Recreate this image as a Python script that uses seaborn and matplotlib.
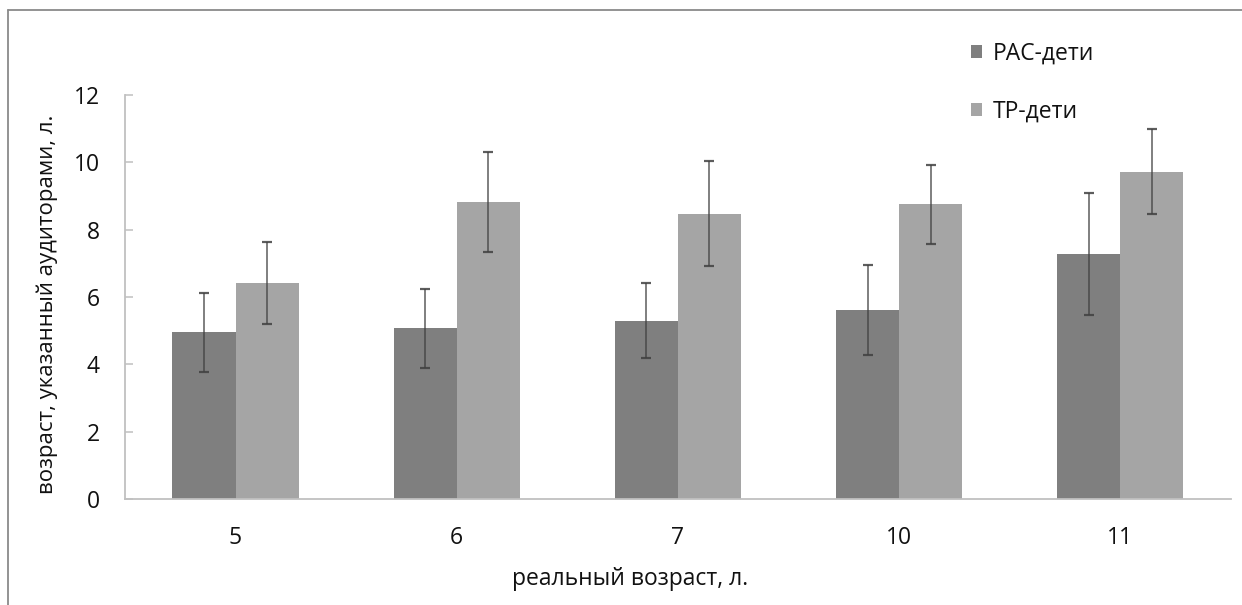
import matplotlib
matplotlib.use("Agg")
import matplotlib.pyplot as plt
from matplotlib.lines import Line2D
from matplotlib.patches import Patch
import numpy as np
import pandas as pd
import seaborn as sns

# Real age groups (years)
ages = ["5", "6", "7", "10", "11"]
groups = ["РАС-дети", "ТР-дети"]

# Mean age attributed by listeners, and its spread
ras_mean = [4.95, 5.07, 5.30, 5.62, 7.28]
ras_err = [1.17, 1.17, 1.12, 1.33, 1.82]
tr_mean = [6.42, 8.82, 8.47, 8.75, 9.72]
tr_err = [1.21, 1.48, 1.56, 1.17, 1.26]

colors = ["#7f7f7f", "#a5a5a5"]
text_color = "#111111"

df = pd.DataFrame({
    "age": ages * 2,
    "group": [groups[0]] * len(ages) + [groups[1]] * len(ages),
    "value": ras_mean + tr_mean,
    "err": ras_err + tr_err,
})

sns.set_theme(style="white")
plt.rcParams["font.family"] = ["Open Sans", "DejaVu Sans"]

fig = plt.figure(figsize=(12.42, 6.05), dpi=100)
ax = fig.add_axes([0.1006, 0.175, 0.8904, 0.668])

sns.barplot(data=df, x="age", y="value", hue="group", order=ages,
            hue_order=groups, palette=colors, width=0.57, gap=0,
            errorbar=None, linewidth=0, ax=ax, legend=False)

# Error bars on each bar, taken from the drawn patches
for i, g in enumerate(groups):
    cont = ax.containers[i]
    sub = df[df["group"] == g].set_index("age").loc[ages]
    xs = [p.get_x() + p.get_width() / 2 for p in cont.patches]
    ax.errorbar(xs, sub["value"], yerr=sub["err"], fmt="none",
                ecolor="#404040", elinewidth=1.1, capsize=3.8,
                capthick=1.6, alpha=0.85)

ax.set_ylim(0, 12)
ax.set_yticks(np.arange(0, 13, 2))
ax.set_xlim(-0.5, len(ages) - 0.5)

for s in ["top", "right"]:
    ax.spines[s].set_visible(False)
for s in ["left", "bottom"]:
    ax.spines[s].set_color("#c0c0c0")
    ax.spines[s].set_linewidth(1.3)

ax.tick_params(axis="y", direction="in", length=6, width=1.1,
               color="#c0c0c0", left=True, pad=18, labelsize=16.5,
               labelcolor=text_color)
ax.tick_params(axis="x", length=0, pad=19, labelsize=16.5,
               labelcolor=text_color)

ax.set_xlabel("реальный возраст, л.", fontsize=16.5, color=text_color)
ax.set_ylabel("возраст, указанный аудиторами, л.", fontsize=16,
              color=text_color)
ax.xaxis.set_label_coords(0.457, -0.197)
ax.yaxis.set_label_coords(-0.07, 0.482)
ax.xaxis.label.set_va("center")
ax.yaxis.label.set_va("center")

handles = [Patch(facecolor=c, edgecolor="none") for c in colors]
fig.legend(handles, groups, loc="upper left",
           bbox_to_anchor=(0.765, 0.966), frameon=False, fontsize=16.5,
           handlelength=0.5, handleheight=0.5, handletextpad=0.45,
           labelspacing=1.5, labelcolor=text_color)

# Frame lines along the top and left edges of the image
fig.add_artist(Line2D([0.0065, 1.0], [0.983, 0.983], color="#8a8a8a",
                      lw=1.3, transform=fig.transFigure))
fig.add_artist(Line2D([0.0065, 0.0065], [0.0, 0.983], color="#8a8a8a",
                      lw=1.3, transform=fig.transFigure))

fig.savefig("out.png", dpi=100)
